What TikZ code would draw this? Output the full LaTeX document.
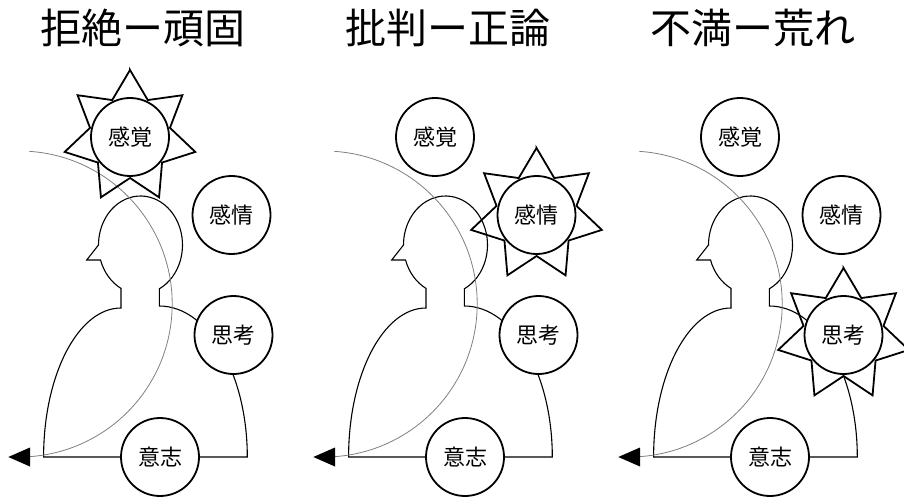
\documentclass[tikz,border=0pt]{standalone}
\usepackage{fontspec}
\setmainfont{Noto Sans CJK JP}
\usetikzlibrary{calc}
\tikzset{
  body/.style={line width=1.1pt, black, line join=miter},
  guide/.style={line width=0.8pt, draw=black!50},
  bub/.style={circle, draw, line width=1.8pt, fill=white, minimum size=78pt, inner sep=0pt, font=\fontsize{22}{24}\selectfont},
  starline/.style={line width=1.8pt, line join=miter},
  ttl/.style={inner sep=0pt, font=\fontsize{41}{44}\selectfont},
  tipfill/.style={fill=black}
}
\begin{document}
\begin{tikzpicture}[x=1pt, y=-1pt]
\useasboundingbox[fill=white] (0,0) rectangle (904,497);
\foreach \p/\dx/\ttext/\starat in {1/0/拒絶ー頑固/s, 2/305/批判ー正論/f, 3/610/不満ー荒れ/t}{
  \begin{scope}[xshift=\dx pt]
    % title
    \node[ttl] (title\p) at (143,28) {\ttext};
    % head and body
    \coordinate (hc\p) at (140.5,245);
    \draw[body] ($(hc\p)+(63.4:42 and 49)$)
      arc[start angle=63.4, end angle=-180, x radius=42, y radius=49]
      -- (86.7,260) -- ($(hc\p)+(162.2:42 and 49)$)
      arc[start angle=162.2, end angle=117.7, x radius=42, y radius=49]
      -- (121,308)
      arc[start angle=-90, end angle=-180, x radius=77.4, y radius=149]
      -- (247.3,457)
      arc[start angle=0, end angle=-90, x radius=88, y radius=151]
      -- cycle;
    % gray arc with arrow head
    \coordinate (ac\p) at (19.2,304);
    \coordinate (aend\p) at ($(ac\p)+(86:153)$);
    \coordinate (atip\p) at (8.3,457);
    \draw[guide] ($(ac\p)+(-86.2:153)$) arc[start angle=-86.2, end angle=86, radius=153];
    \fill[tipfill] (30,447.5) -- (atip\p) -- (30,466.5) -- cycle;
    % centres
    \coordinate (cs\p) at (130,137);
    \coordinate (cf\p) at (231.5,215);
    \coordinate (ct\p) at (233.5,335);
    \coordinate (cw\p) at (160,457);
    % star
    \draw[starline] ($(c\starat\p)+(-90:67)$)
      \foreach \k in {0,...,6}{
        -- ($(c\starat\p)+({-90+51.4286*\k+25.7143}:41)$)
        -- ($(c\starat\p)+({-90+51.4286*(\k+1)}:67)$)
      } -- cycle;
    % circles
    \node[bub] (s\p) at (cs\p) {感覚};
    \node[bub] (f\p) at (cf\p) {感情};
    \node[bub] (t\p) at (ct\p) {思考};
    \node[bub] (w\p) at (cw\p) {意志};
  \end{scope}
}
\end{tikzpicture}
\end{document}
